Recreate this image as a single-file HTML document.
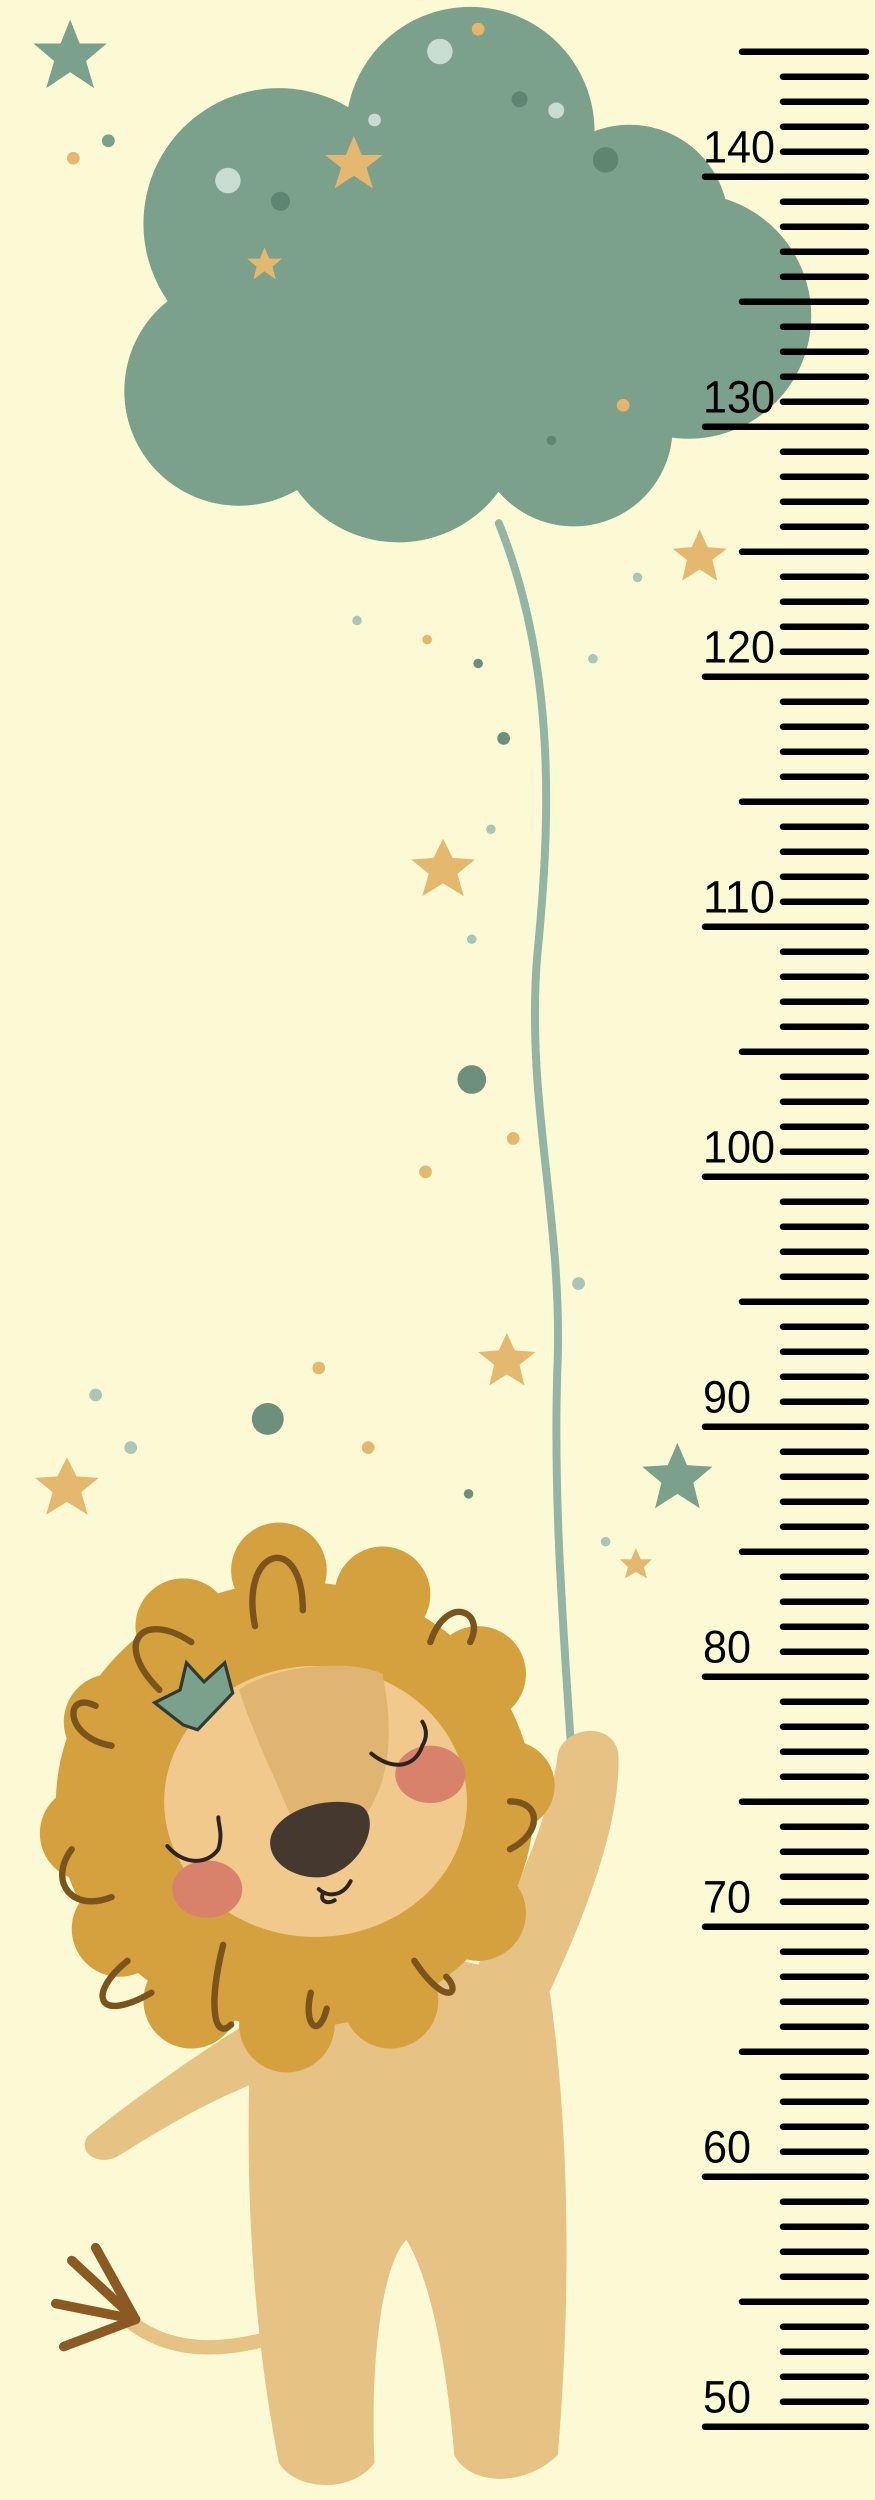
<!DOCTYPE html>
<html><head><meta charset="utf-8"><style>
html,body{margin:0;padding:0;background:#fcfad5;}
#wrap{position:relative;width:875px;height:2500px;overflow:hidden;background:#fcfad5;}
svg{position:absolute;left:0;top:0;}
</style></head><body>
<div id="wrap">
<svg id="art" width="875" height="2500" viewBox="0 0 549 1568">
  <g fill="#7ba08c">
    <circle cx="295" cy="82" r="78"/>
    <circle cx="175" cy="140" r="85"/>
    <circle cx="150" cy="245" r="72"/>
    <circle cx="250" cy="262" r="78"/>
    <circle cx="360" cy="268" r="62"/>
    <circle cx="432" cy="198" r="77"/>
    <circle cx="395" cy="140" r="62"/>
    <rect x="160" y="115" width="260" height="165"/>
  </g>
  <g>
    <circle cx="276" cy="32" r="8" fill="#c8dcd2"/><circle cx="143" cy="113" r="8" fill="#c8dcd2"/>
    <circle cx="349" cy="69" r="5" fill="#c8dcd2"/><circle cx="380" cy="100" r="8" fill="#5e8572"/>
    <circle cx="176" cy="126" r="6" fill="#5e8572"/><circle cx="326" cy="62" r="5" fill="#5e8572"/>
    <circle cx="300" cy="18" r="4" fill="#e5b56b"/><circle cx="391" cy="254" r="4" fill="#e5b56b"/>
    <circle cx="235" cy="75" r="4" fill="#c8dcd2"/><circle cx="346" cy="276" r="3" fill="#5e8572"/>
  </g>
  <g fill="#e5b870">
    <polygon points="222,85 227,97 240,97 230,105 234,118 222,110 210,118 214,105 204,97 217,97"/>
    <polygon points="166,155 169,162 177,162 171,167 173,175 166,170 159,175 161,167 155,162 163,162"/>
    <polygon points="439,332 444,343 456,344 447,351 450,364 439,357 428,364 431,351 422,344 434,343"/>
    <polygon points="278,526 284,538 298,539 287,548 291,562 278,554 265,562 269,548 258,539 272,538"/>
    <polygon points="318,836 323,847 336,848 326,856 329,869 318,862 307,869 310,856 300,848 313,847"/>
    <polygon points="42,914 48,926 62,927 51,936 55,950 42,942 29,950 33,936 22,927 36,926"/>
    <polygon points="399,971 402,978 409,978 404,983 406,990 399,986 392,990 394,983 389,978 396,978"/>
  </g>
  <g fill="#7ba08c">
    <polygon points="44,12 50,27 67,27 54,38 59,55 44,45 29,55 34,38 21,27 38,27"/>
    <polygon points="425,905 431,919 447,920 435,930 439,946 425,937 411,946 415,930 403,920 419,919"/>
  </g>
  <g>
    <circle cx="296" cy="677" r="9" fill="#6e8f7c"/><circle cx="168" cy="890" r="10" fill="#6e8f7c"/>
    <circle cx="46" cy="99" r="4" fill="#e5b870"/><circle cx="68" cy="88" r="4" fill="#7ba08c"/>
    <circle cx="268" cy="401" r="3" fill="#e5b870"/><circle cx="300" cy="416" r="3" fill="#6e8f7c"/>
    <circle cx="316" cy="463" r="4" fill="#6e8f7c"/><circle cx="308" cy="520" r="3" fill="#a9c6b8"/>
    <circle cx="296" cy="589" r="3" fill="#a9c6b8"/><circle cx="322" cy="714" r="4" fill="#e5b870"/>
    <circle cx="267" cy="735" r="4" fill="#e5b870"/><circle cx="363" cy="805" r="4" fill="#a9c6b8"/>
    <circle cx="200" cy="858" r="4" fill="#e5b870"/><circle cx="231" cy="908" r="4" fill="#e5b870"/>
    <circle cx="60" cy="875" r="4" fill="#a9c6b8"/><circle cx="82" cy="908" r="4" fill="#a9c6b8"/>
    <circle cx="294" cy="937" r="3" fill="#6e8f7c"/><circle cx="380" cy="967" r="3" fill="#a9c6b8"/>
    <circle cx="224" cy="389" r="3" fill="#a9c6b8"/><circle cx="372" cy="413" r="3" fill="#a9c6b8"/>
    <circle cx="400" cy="362" r="3" fill="#a9c6b8"/>
  </g>
  <path d="M313,328 C350,420 345,520 337,600 C330,690 352,760 350,850 C346,950 356,1050 362,1155" fill="none" stroke="#94b5a6" stroke-width="5" stroke-linecap="round"/>
  <g>
    <path d="M80,1455 C110,1480 150,1475 190,1460" fill="none" stroke="#e6c285" stroke-width="9" stroke-linecap="round"/>
    <g stroke="#8a5a22" stroke-width="6" stroke-linecap="round" fill="none">
      <path d="M85,1455 L45,1418"/><path d="M85,1455 L35,1445"/><path d="M85,1455 L40,1472"/><path d="M85,1455 L60,1410"/>
    </g>
    <path d="M170,1260 C120,1290 80,1320 55,1340 C48,1350 62,1360 75,1352 C110,1330 145,1310 180,1300 Z" fill="#e6c285"/>
    <path d="M290,1250 C320,1200 345,1140 350,1100 C355,1082 385,1080 388,1100 C390,1150 360,1220 330,1280 Z" fill="#e6c285"/>
    <path d="M160,1240 C200,1220 300,1220 345,1250 C355,1320 360,1420 350,1540 C330,1560 295,1560 285,1540 C280,1480 270,1430 255,1405 C240,1420 232,1480 235,1545 C220,1565 185,1562 175,1545 C160,1470 150,1360 160,1240 Z" fill="#e6c285"/>
    <g fill="#d4a13e">
      <ellipse cx="185" cy="1132" rx="150" ry="140"/>
      <circle cx="70" cy="1080" r="30"/><circle cx="55" cy="1150" r="30"/><circle cx="75" cy="1210" r="30"/>
      <circle cx="120" cy="1255" r="30"/><circle cx="180" cy="1270" r="30"/><circle cx="245" cy="1255" r="30"/>
      <circle cx="300" cy="1200" r="30"/><circle cx="320" cy="1120" r="28"/><circle cx="300" cy="1050" r="30"/>
      <circle cx="240" cy="1000" r="30"/><circle cx="175" cy="985" r="30"/><circle cx="115" cy="1020" r="30"/>
    </g>
    <g fill="none" stroke="#7a541c" stroke-width="4" stroke-linecap="round">
      <path d="M160,1020 C150,970 190,960 190,1010"/><path d="M100,1060 C70,1030 90,1010 120,1030"/>
      <path d="M270,1030 C280,1000 305,1010 295,1030"/><path d="M60,1070 C40,1060 40,1090 70,1095"/>
      <path d="M45,1160 C30,1180 45,1200 70,1190"/><path d="M80,1230 C55,1250 60,1270 95,1250"/>
      <path d="M140,1220 C130,1260 135,1280 145,1270"/><path d="M195,1250 C190,1270 200,1280 205,1260"/>
      <path d="M260,1230 C280,1260 290,1250 280,1240"/><path d="M320,1160 C340,1150 340,1130 320,1130"/>
    </g>
    <ellipse cx="198" cy="1130" rx="95" ry="85" fill="#f2c98c"/>
    <path d="M150,1060 C170,1045 220,1040 240,1050 C250,1100 240,1130 220,1150 L185,1145 C170,1110 158,1085 150,1060 Z" fill="#e0b572"/>
    <polygon points="97,1068 113,1060 117,1043 128,1055 141,1043 146,1062 124,1085 115,1082" fill="#7ba08c" stroke="#2d3b33" stroke-width="2"/>
    <path d="M170,1160 C165,1140 200,1125 225,1132 C240,1138 230,1170 205,1177 C190,1180 173,1172 170,1160 Z" fill="#45382f"/>
    <ellipse cx="130" cy="1185" rx="22" ry="18" fill="#d8826c"/>
    <ellipse cx="270" cy="1113" rx="22" ry="18" fill="#d8826c"/>
    <g fill="none" stroke="#2b2420" stroke-width="2.5" stroke-linecap="round">
      <path d="M105,1158 C115,1170 130,1170 137,1160 C140,1150 137,1145 137,1140"/>
      <path d="M233,1100 C245,1110 260,1110 265,1095 C268,1090 268,1085 265,1080"/>
      <path d="M200,1185 C205,1190 215,1190 220,1180"/><path d="M203,1187 C200,1192 205,1195 210,1192"/>
    </g>
  </g>
</svg>
<svg id="ruler" width="875" height="2500"></svg>
</div>
<script>
const tickValues = [];
for (let v = 50; v <= 145; v++) tickValues.push(v);
const labelValues = [50, 60, 70, 80, 90, 100, 110, 120, 130, 140];
const NS = 'http://www.w3.org/2000/svg';
const svg = document.getElementById('ruler');
function yScale(v) { return 2426.7 - (v - 50) * 25; }
tickValues.forEach(v => {
  const l = document.createElementNS(NS, 'line');
  const x1 = v % 10 === 0 ? 705 : (v % 5 === 0 ? 742 : 783);
  l.setAttribute('x1', x1); l.setAttribute('x2', 866);
  l.setAttribute('y1', yScale(v)); l.setAttribute('y2', yScale(v));
  l.setAttribute('stroke', '#000'); l.setAttribute('stroke-width', '6.5');
  l.setAttribute('stroke-linecap', 'round');
  
  
  svg.appendChild(l);
});
labelValues.forEach(v => {
  const t = document.createElementNS(NS, 'text');
  t.setAttribute('x', 703); t.setAttribute('y', yScale(v) - 14);
  t.setAttribute('font-family', 'Liberation Sans, sans-serif');
  t.setAttribute('font-size', '45');
  t.setAttribute('textLength', v >= 100 ? '72' : '48');
  t.setAttribute('lengthAdjust', 'spacingAndGlyphs');
  t.setAttribute('fill', '#000');
  t.textContent = String(v);
  
  
  svg.appendChild(t);
});
</script>
</body></html>
